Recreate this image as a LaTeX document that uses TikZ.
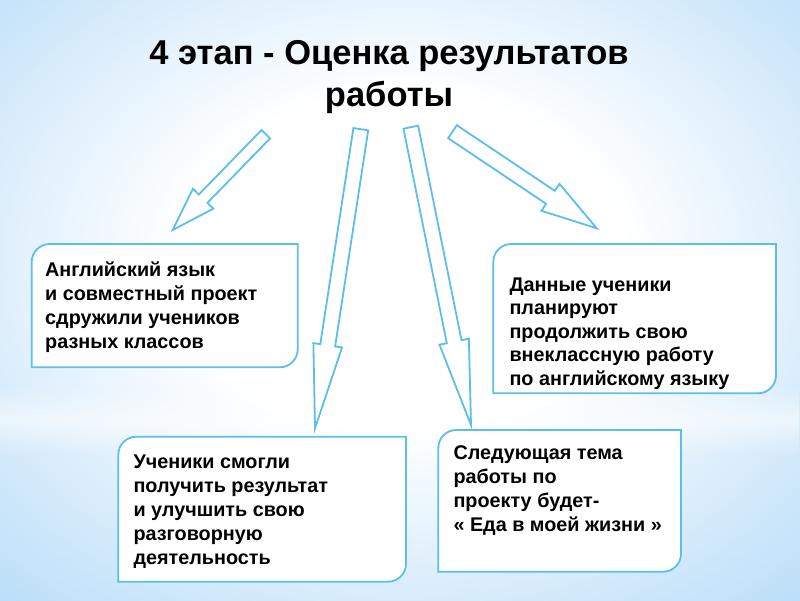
\documentclass[tikz,border=0pt]{standalone}
\usepackage{fontspec}
\setmainfont{Liberation Sans}
\usetikzlibrary{calc,fadings}
\definecolor{bgblue}{RGB}{158,208,246}
\definecolor{lineblue}{RGB}{91,191,233}
\pgfdeclareradialshading{bgshade}{\pgfpoint{0bp}{4bp}}{color(0bp)=(white); color(14bp)=(white); color(42bp)=(bgblue!85!white); color(60bp)=(bgblue); color(80bp)=(bgblue)}
\tikzfading[name=bandfade, top color=transparent!100, bottom color=transparent!100, middle color=transparent!45]
\tikzset{
  arr/.style={draw=lineblue, fill=white, line width=1.8pt},
  boxline/.style={draw=lineblue, fill=white, line width=1.8pt},
  boxshape/.style={inner sep=0pt, outer sep=0pt, anchor=north west},
  boxtext/.style={inner sep=0pt, anchor=north west, align=left, font=\fontsize{19.8}{24}\selectfont\bfseries},
  titletext/.style={inner sep=0pt, anchor=north, align=center, font=\fontsize{34.5}{42}\selectfont\bfseries}
}
\newcommand\blockarr[5]{%
  \coordinate (hb) at ($(#2)!#5pt!(#1)$);
  \draw[arr] ($(#1)!#3pt!90:(#2)$) -- ($(hb)!#3pt!90:(#2)$) -- ($(hb)!#4pt!90:(#2)$) -- (#2)
    -- ($(hb)!#4pt!-90:(#2)$) -- ($(hb)!#3pt!-90:(#2)$) -- ($(#1)!#3pt!-90:(#2)$) -- cycle;
}
\newcommand\roundbox[1]{%
  \draw[boxline] (#1.south west) -- ($(#1.north west)+(0,18)$)
    .. controls ($(#1.north west)+(0,8)$) and ($(#1.north west)+(8,0)$) .. ($(#1.north west)+(18,0)$)
    -- (#1.north east) -- ($(#1.south east)+(0,-18)$)
    .. controls ($(#1.south east)+(0,-8)$) and ($(#1.south east)+(-8,0)$) .. ($(#1.south east)+(-18,0)$)
    -- cycle;
}
\begin{document}
\begin{tikzpicture}[x=1pt, y=-1pt]
\useasboundingbox (0,0) rectangle (800,600);
\shade[shading=bgshade] (0,0) rectangle (800,600);
\fill[white, path fading=bandfade] (0,385) rectangle (800,455);

% title
\node[titletext] (title) at (389,40.6) {4 этап - Оценка результатов\\работы};

% arrows
\coordinate (a1t) at (265.8,134.2); \coordinate (a1h) at (172.7,230);
\coordinate (a2t) at (360.8,129.2); \coordinate (a2h) at (315,428.3);
\coordinate (a3t) at (410.8,127.2); \coordinate (a3h) at (471,425);
\coordinate (a4t) at (452.5,131.7); \coordinate (a4h) at (596.7,228.3);
\blockarr{a1t}{a1h}{6}{14.3}{43.7}
\blockarr{a2t}{a2h}{7.5}{14.5}{84}
\blockarr{a3t}{a3h}{7.5}{15}{85}
\blockarr{a4t}{a4h}{7.8}{16.2}{55.7}

% boxes
\node[boxshape, minimum width=266pt, minimum height=123.3pt] (b1) at (31.7,244) {};
\node[boxshape, minimum width=282.7pt, minimum height=149.3pt] (b2) at (493.3,244) {};
\node[boxshape, minimum width=287.7pt, minimum height=145pt] (b3) at (118.3,436.7) {};
\node[boxshape, minimum width=242.7pt, minimum height=141.7pt] (b4) at (438.3,430) {};
\roundbox{b1}
\roundbox{b2}
\roundbox{b3}
\roundbox{b4}

\node[boxtext] (t1) at (45,259.9) {\strut Английский язык\\и совместный проект\\сдружили учеников\\разных классов};
\node[boxtext, font=\fontsize{19.8}{23.5}\selectfont\bfseries] (t2) at (509.3,274.5) {\strut Данные ученики\\планируют\\продолжить свою\\внеклассную работу\\по английскому языку};
\node[boxtext] (t3) at (133.3,451.5) {\strut Ученики смогли\\получить результат\\и улучшить свою\\разговорную\\деятельность};
\node[boxtext] (t4) at (453.3,442.5) {\strut Следующая тема\\работы по\\проекту будет-\\« Еда в моей жизни »};
\end{tikzpicture}
\end{document}
